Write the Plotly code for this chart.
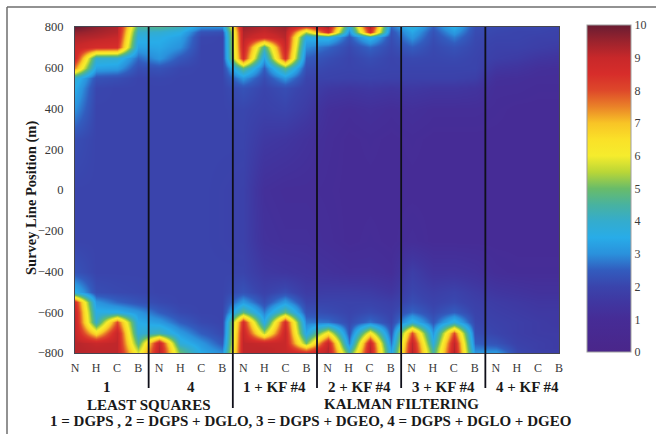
import numpy as np
import plotly.graph_objects as go

# Survey line positions (m) at which the error profiles are sampled, top to bottom
y_pos = [800, 775, 750, 700, 650, 600, 550, 500, 400, 250, 0, -250,
         -400, -500, -550, -600, -650, -700, -750, -775, -800]

receivers = ["N", "H", "C", "B"]
groups = ["1", "4", "1 + KF #4", "2 + KF #4", "3 + KF #4", "4 + KF #4"]

# Position error profiles, one list per receiver column, values along y_pos
ls_1 = [
    [10.0, 9.6, 9.3, 9.0, 8.8, 7.4, 3.9, 3.5, 3.0, 2.2, 2.0, 2.0, 2.3, 3.6, 8.6, 9.0, 9.1, 9.1, 9.2, 9.2, 9.2],
    [9.6, 9.4, 9.2, 8.6, 4.0, 3.3, 2.3, 2.05, 2.0, 2.0, 2.0, 2.0, 2.0, 2.2, 3.1, 3.6, 4.0, 6.5, 9.0, 9.1, 9.1],
    [9.3, 9.2, 9.0, 8.5, 3.9, 3.2, 2.2, 2.0, 2.0, 2.0, 2.0, 2.0, 2.0, 2.1, 2.6, 3.6, 8.0, 9.0, 9.1, 9.1, 9.1],
    [4.5, 4.0, 3.7, 3.3, 2.6, 2.2, 2.0, 2.0, 2.0, 2.0, 2.0, 2.0, 2.0, 2.05, 2.3, 3.1, 3.5, 3.8, 4.6, 5.2, 5.8],
]
ls_4 = [
    [4.6, 3.9, 3.6, 3.4, 3.1, 2.3, 2.05, 2.0, 2.0, 2.0, 2.0, 2.0, 2.0, 2.0, 2.1, 2.5, 3.2, 4.3, 9.0, 9.2, 9.2],
    [4.2, 3.6, 3.3, 3.0, 2.4, 2.05, 2.0, 2.0, 2.0, 2.0, 2.0, 2.0, 2.0, 2.0, 2.0, 2.1, 2.5, 3.2, 3.8, 4.5, 5.0],
    [3.0, 2.3, 2.05, 2.0, 2.0, 2.0, 2.0, 2.0, 2.0, 2.0, 2.0, 2.0, 2.0, 2.0, 2.0, 2.0, 2.1, 2.5, 3.1, 3.3, 3.5],
    [3.0, 2.2, 2.0, 2.0, 2.0, 2.0, 2.0, 2.0, 2.0, 2.0, 1.95, 1.95, 2.0, 2.0, 2.0, 2.0, 2.0, 2.1, 2.4, 2.7, 3.0],
]
kf_1 = [
    [9.5, 9.3, 9.2, 9.0, 8.6, 4.8, 3.1, 2.3, 2.05, 2.0, 1.9, 1.9, 2.0, 2.3, 3.2, 4.8, 8.6, 9.0, 9.1, 9.1, 9.1],
    [9.2, 9.0, 8.6, 4.5, 3.3, 2.5, 2.15, 2.0, 1.9, 1.6, 1.2, 1.3, 1.6, 1.9, 2.2, 2.8, 3.5, 5.5, 9.0, 9.1, 9.1],
    [9.5, 9.3, 9.2, 9.0, 8.5, 4.8, 3.1, 2.2, 2.0, 1.5, 1.1, 1.2, 1.5, 2.2, 3.2, 4.8, 8.6, 9.0, 9.0, 9.0, 9.0],
    [8.0, 5.5, 3.6, 3.0, 2.5, 2.2, 2.0, 1.9, 1.7, 1.3, 1.1, 1.2, 1.4, 1.7, 2.0, 2.3, 2.8, 3.4, 5.0, 7.0, 8.6],
]
kf_2 = [
    [9.3, 8.6, 3.8, 2.6, 2.2, 2.05, 1.95, 1.6, 1.2, 1.1, 1.05, 1.1, 1.3, 1.75, 2.0, 2.15, 2.7, 6.3, 9.0, 9.2, 9.2],
    [3.6, 2.9, 2.4, 2.1, 2.0, 2.0, 1.9, 1.5, 1.1, 1.0, 1.0, 1.0, 1.2, 1.75, 1.95, 2.0, 2.1, 2.3, 2.8, 3.6, 4.5],
    [9.3, 8.6, 3.8, 2.6, 2.2, 2.05, 1.95, 1.6, 1.2, 1.05, 1.0, 1.05, 1.2, 1.7, 1.95, 2.15, 2.7, 6.3, 9.0, 9.2, 9.2],
    [2.6, 2.3, 2.2, 2.1, 2.0, 2.0, 1.9, 1.5, 1.1, 1.0, 1.0, 1.0, 1.1, 1.5, 1.8, 1.95, 2.05, 2.3, 2.7, 3.1, 3.4],
]
kf_3 = [
    [3.8, 3.4, 3.1, 2.5, 2.1, 2.0, 1.9, 1.6, 1.2, 1.05, 1.0, 1.1, 1.8, 2.05, 2.2, 2.6, 3.8, 8.0, 9.1, 9.2, 9.3],
    [2.5, 2.3, 2.2, 2.1, 2.05, 2.0, 1.9, 1.5, 1.1, 1.0, 1.0, 1.0, 1.4, 1.8, 1.95, 2.1, 2.4, 3.1, 3.7, 4.2, 4.5],
    [3.6, 3.2, 2.8, 2.3, 2.1, 2.0, 1.9, 1.5, 1.1, 1.0, 1.0, 1.0, 1.4, 1.95, 2.1, 2.5, 3.8, 8.0, 9.1, 9.2, 9.3],
    [2.2, 2.15, 2.1, 2.05, 2.0, 2.0, 1.8, 1.4, 1.1, 1.0, 1.0, 1.0, 1.3, 1.7, 1.85, 1.95, 2.05, 2.2, 2.5, 2.8, 3.1],
]
kf_4 = [
    [2.1, 2.05, 2.0, 1.9, 1.8, 1.5, 1.2, 1.1, 1.05, 1.0, 1.0, 1.0, 1.1, 1.5, 1.7, 1.8, 1.9, 2.0, 2.3, 2.7, 3.2],
    [2.05, 2.0, 2.0, 1.9, 1.7, 1.4, 1.15, 1.1, 1.0, 1.0, 1.0, 1.0, 1.05, 1.4, 1.6, 1.7, 1.8, 1.8, 1.9, 2.0, 2.1],
    [2.05, 2.0, 1.9, 1.8, 1.5, 1.2, 1.1, 1.05, 1.0, 1.0, 1.0, 1.0, 1.05, 1.3, 1.5, 1.6, 1.7, 1.7, 1.8, 1.8, 1.9],
    [2.0, 1.9, 1.9, 1.7, 1.4, 1.15, 1.1, 1.05, 1.0, 1.0, 1.0, 1.0, 1.05, 1.3, 1.5, 1.6, 1.6, 1.7, 1.7, 1.7, 1.8],
]

colorbar_ticks = list(range(0, 11))
y_ticks = [800, 600, 400, 200, 0, -200, -400, -600, -800]

# ---- assemble grid ----
columns = ls_1 + ls_4 + kf_1 + kf_2 + kf_3 + kf_4
z = np.array(columns).T[::-1]          # rows ascending in y
y = y_pos[::-1]
x = list(range(len(columns)))
tick_text = receivers * len(groups)

err_scale = [
    [0.00, "rgb(74,38,138)"],
    [0.10, "rgb(70,44,150)"],
    [0.15, "rgb(64,54,160)"],
    [0.20, "rgb(58,68,172)"],
    [0.25, "rgb(50,92,190)"],
    [0.30, "rgb(42,145,220)"],
    [0.35, "rgb(40,172,232)"],
    [0.40, "rgb(52,172,205)"],
    [0.45, "rgb(72,178,160)"],
    [0.50, "rgb(105,188,105)"],
    [0.55, "rgb(185,214,55)"],
    [0.60, "rgb(245,236,45)"],
    [0.65, "rgb(250,225,40)"],
    [0.70, "rgb(248,196,38)"],
    [0.75, "rgb(234,130,40)"],
    [0.80, "rgb(222,72,42)"],
    [0.85, "rgb(215,45,42)"],
    [0.90, "rgb(200,40,42)"],
    [0.95, "rgb(155,35,45)"],
    [1.00, "rgb(105,28,50)"],
]

SERIF = "Liberation Serif, Times New Roman, serif"
W, H = 656, 434
L, R, T, B = 75, 97, 27, 81
pw, ph = W - L - R, H - T - B


def px(xp):
    return (xp - L) / pw


def py(yp):
    return (H - B - yp) / ph


fig = go.Figure(go.Contour(
    x=x, y=y, z=z,
    zmin=0, zmax=10,
    colorscale=err_scale,
    contours=dict(start=0, end=10, size=0.25, coloring="heatmap", showlines=False),
    line=dict(width=0, smoothing=0),
    colorbar=dict(
        x=px(587), xanchor="left", y=py(188.5), yanchor="middle",
        len=327 / ph, lenmode="fraction", thickness=44, ypad=0, xpad=0,
        outlinewidth=1, outlinecolor="rgb(160,160,160)",
        tickvals=colorbar_ticks, ticks="",
        tickfont=dict(family=SERIF, size=12, color="rgb(60,60,60)"),
    ),
))

shapes = []
# group separators
for i, gx in enumerate([3.5, 7.5, 11.5, 15.5, 19.5]):
    shapes.append(dict(type="line", xref="x", yref="paper", x0=gx, x1=gx,
                       y0=1, y1=py(408 if i == 1 else 388),
                       line=dict(color="rgb(15,15,25)", width=1.8)))
# outer frame (left and top edges)
shapes.append(dict(type="line", xref="paper", yref="paper",
                   x0=px(7), x1=px(7), y0=py(7), y1=py(440),
                   line=dict(color="rgb(110,110,110)", width=1.5)))
shapes.append(dict(type="line", xref="paper", yref="paper",
                   x0=px(7), x1=px(662), y0=py(7), y1=py(7),
                   line=dict(color="rgb(110,110,110)", width=1.5)))

bold = dict(family=SERIF, size=15, color="rgb(25,25,25)")
annotations = []
for g, label in enumerate(groups):
    annotations.append(dict(x=4 * g + 1.5, y=py(387), xref="x", yref="paper",
                            text=f"<b>{label}</b>", showarrow=False, font=bold,
                            xanchor="center", yanchor="middle"))
annotations += [
    dict(x=3.5, y=py(405), xref="x", yref="paper", text="<b>LEAST SQUARES</b>",
         showarrow=False, font=bold, xanchor="center", yanchor="middle"),
    dict(x=15.5, y=py(404), xref="x", yref="paper", text="<b>KALMAN FILTERING</b>",
         showarrow=False, font=bold, xanchor="center", yanchor="middle"),
    dict(x=px(310), y=py(421), xref="paper", yref="paper",
         text="<b>1 = DGPS , 2 = DGPS + DGLO, 3 = DGPS + DGEO, 4 = DGPS + DGLO + DGEO</b>",
         showarrow=False, font=bold, xanchor="center", yanchor="middle"),
    dict(x=px(31), y=py(198), xref="paper", yref="paper",
         text="<b>Survey Line Position (m)</b>", textangle=-90, showarrow=False,
         font=dict(family=SERIF, size=14.5, color="rgb(25,25,25)"),
         xanchor="center", yanchor="middle"),
]

fig.update_layout(
    width=W, height=H,
    margin=dict(l=L, r=R, t=T, b=B, pad=0),
    paper_bgcolor="white", plot_bgcolor="white",
    shapes=shapes, annotations=annotations,
    xaxis=dict(range=[0, 23], tickvals=x, ticktext=tick_text, ticks="",
               showgrid=False, zeroline=False, showline=True, mirror=True,
               linecolor="rgb(70,70,80)", linewidth=1,
               tickfont=dict(family=SERIF, size=12, color="rgb(55,55,55)"),
               ticklabelstandoff=4),
    yaxis=dict(range=[-800, 800], tickvals=y_ticks, ticks="",
               showgrid=False, zeroline=False, showline=True, mirror=True,
               linecolor="rgb(70,70,80)", linewidth=1,
               tickfont=dict(family=SERIF, size=12.5, color="rgb(55,55,55)"),
               ticklabelstandoff=8),
)

fig.write_html("out.html")
